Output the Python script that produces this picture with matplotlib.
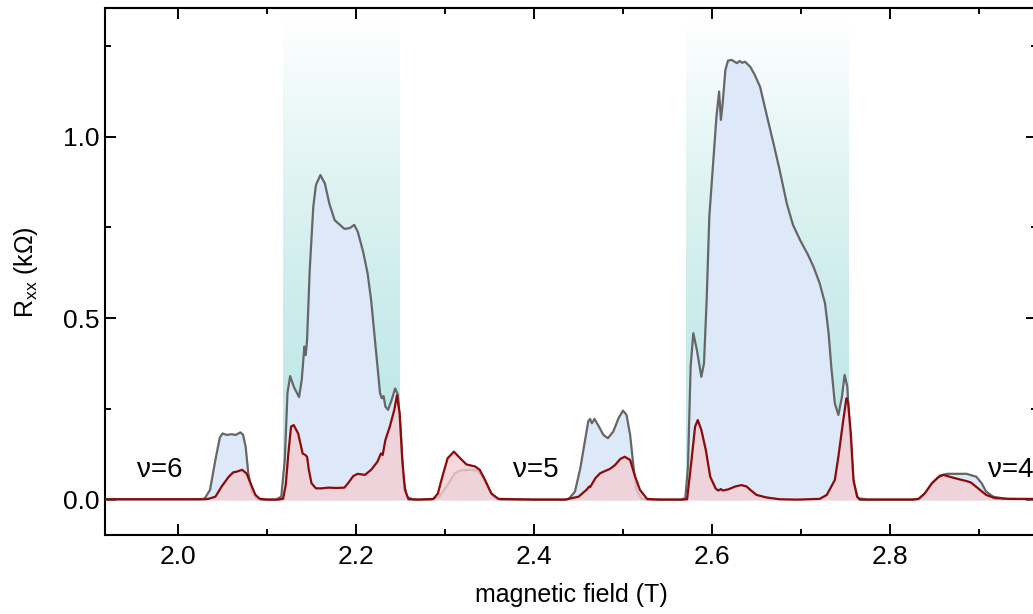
import numpy as np
import matplotlib.pyplot as plt
from matplotlib.ticker import MultipleLocator

plt.rcParams['font.family'] = ['Liberation Sans', 'DejaVu Sans']
plt.rcParams['mathtext.fontset'] = 'custom'
plt.rcParams['mathtext.rm'] = 'Liberation Sans'

# Rxx traces vs magnetic field (T, kOhm)
grey_B = [1.918, 1.95, 2.00, 2.025, 2.030, 2.036, 2.042, 2.047, 2.050, 2.055,
          2.060, 2.065, 2.070, 2.073, 2.076, 2.079, 2.083, 2.088, 2.095, 2.110,
          2.116, 2.120, 2.123, 2.126, 2.130, 2.136, 2.139, 2.142, 2.1435, 2.145,
          2.148, 2.152, 2.155, 2.160, 2.165, 2.170, 2.176, 2.182, 2.187, 2.193,
          2.198, 2.202, 2.208, 2.213, 2.217, 2.222, 2.227, 2.229, 2.231, 2.233,
          2.236, 2.240, 2.244, 2.247, 2.250, 2.253, 2.257, 2.265, 2.285, 2.294,
          2.304, 2.311, 2.317, 2.328, 2.336, 2.341, 2.347, 2.354, 2.362, 2.400,
          2.435, 2.439, 2.446, 2.452, 2.457, 2.461, 2.463, 2.465, 2.468, 2.472,
          2.478, 2.483, 2.489, 2.495, 2.500, 2.504, 2.508, 2.512, 2.515, 2.521,
          2.530, 2.565, 2.570, 2.573, 2.576, 2.579, 2.583, 2.588, 2.591, 2.594,
          2.597, 2.601, 2.605, 2.608, 2.610, 2.612, 2.615, 2.618, 2.622, 2.628,
          2.631, 2.634, 2.637, 2.643, 2.648, 2.654, 2.661, 2.669, 2.676, 2.684,
          2.691, 2.699, 2.708, 2.714, 2.721, 2.727, 2.731, 2.734, 2.738, 2.742,
          2.746, 2.749, 2.752, 2.755, 2.759, 2.764, 2.775, 2.825, 2.834, 2.841,
          2.849, 2.856, 2.864, 2.875, 2.886, 2.897, 2.903, 2.908, 2.916, 2.931,
          2.966]
grey_R = [0.002, 0.002, 0.002, 0.002, 0.004, 0.028, 0.110, 0.172, 0.183, 0.179,
          0.181, 0.179, 0.186, 0.180, 0.147, 0.073, 0.023, 0.004, 0.001, 0.001,
          0.009, 0.110, 0.294, 0.341, 0.312, 0.283, 0.330, 0.422, 0.399, 0.440,
          0.633, 0.807, 0.867, 0.894, 0.871, 0.816, 0.770, 0.757, 0.746, 0.748,
          0.757, 0.738, 0.683, 0.624, 0.550, 0.422, 0.294, 0.280, 0.286, 0.257,
          0.248, 0.275, 0.307, 0.290, 0.200, 0.060, 0.008, 0.001, 0.001, 0.009,
          0.046, 0.073, 0.081, 0.083, 0.081, 0.069, 0.041, 0.009, 0.001, 0.001,
          0.001, 0.003, 0.023, 0.087, 0.160, 0.217, 0.223, 0.211, 0.223, 0.206,
          0.179, 0.170, 0.188, 0.225, 0.246, 0.234, 0.179, 0.087, 0.028, 0.003,
          0.001, 0.001, 0.005, 0.092, 0.367, 0.459, 0.413, 0.339, 0.376, 0.550,
          0.780, 0.917, 1.055, 1.124, 1.046, 1.092, 1.183, 1.209, 1.211, 1.202,
          1.208, 1.203, 1.206, 1.192, 1.170, 1.137, 1.064, 0.982, 0.908, 0.816,
          0.757, 0.715, 0.674, 0.642, 0.596, 0.541, 0.459, 0.367, 0.266, 0.234,
          0.284, 0.344, 0.312, 0.183, 0.046, 0.005, 0.001, 0.001, 0.003, 0.023,
          0.050, 0.067, 0.072, 0.072, 0.072, 0.064, 0.046, 0.023, 0.009, 0.003,
          0.002]

red_B = [1.918, 1.95, 2.00, 2.030, 2.034, 2.042, 2.049, 2.057, 2.062, 2.066,
         2.072, 2.077, 2.083, 2.087, 2.092, 2.100, 2.112, 2.118, 2.121, 2.124, 2.127,
         2.130, 2.135, 2.140, 2.143, 2.145, 2.147, 2.150, 2.155, 2.161, 2.169,
         2.178, 2.187, 2.191, 2.197, 2.202, 2.210, 2.217, 2.224, 2.228, 2.230,
         2.233, 2.238, 2.243, 2.246, 2.249, 2.252, 2.255, 2.259, 2.270, 2.287,
         2.292, 2.298, 2.303, 2.310, 2.317, 2.324, 2.334, 2.339, 2.345, 2.352,
         2.360, 2.400, 2.435, 2.450, 2.459, 2.462, 2.463, 2.469, 2.474, 2.480,
         2.485, 2.491, 2.497, 2.502, 2.508, 2.513, 2.519, 2.527, 2.540, 2.567,
         2.572, 2.577, 2.581, 2.584, 2.588, 2.593, 2.598, 2.604, 2.607, 2.610,
         2.612, 2.618, 2.626, 2.633, 2.639, 2.643, 2.650, 2.661, 2.676, 2.695,
         2.721, 2.729, 2.738, 2.742, 2.747, 2.751, 2.753, 2.756, 2.759, 2.763,
         2.766, 2.780, 2.825, 2.832, 2.839, 2.847, 2.855, 2.860, 2.867, 2.876,
         2.886, 2.891, 2.899, 2.908, 2.918, 2.934, 2.966]
red_R = [0.002, 0.002, 0.002, 0.002, 0.003, 0.009, 0.037, 0.064, 0.076, 0.078,
         0.083, 0.073, 0.037, 0.014, 0.003, 0.001, 0.001, 0.003, 0.040, 0.128, 0.202,
         0.206, 0.183, 0.128, 0.124, 0.119, 0.083, 0.046, 0.032, 0.032, 0.034,
         0.033, 0.034, 0.046, 0.066, 0.072, 0.069, 0.083, 0.105, 0.128, 0.124,
         0.165, 0.202, 0.248, 0.288, 0.239, 0.110, 0.028, 0.002, 0.001, 0.003,
         0.018, 0.073, 0.115, 0.133, 0.115, 0.098, 0.092, 0.083, 0.055, 0.018,
         0.003, 0.001, 0.001, 0.009, 0.028, 0.037, 0.035, 0.060, 0.073, 0.080,
         0.085, 0.096, 0.113, 0.119, 0.110, 0.069, 0.028, 0.003, 0.001, 0.001,
         0.002, 0.110, 0.202, 0.220, 0.193, 0.138, 0.064, 0.032, 0.026, 0.030,
         0.026, 0.029, 0.037, 0.041, 0.037, 0.028, 0.014, 0.007, 0.002, 0.001,
         0.003, 0.014, 0.055, 0.119, 0.211, 0.280, 0.266, 0.183, 0.055, 0.009,
         0.001, 0.001, 0.001, 0.003, 0.018, 0.046, 0.064, 0.069, 0.064, 0.058,
         0.052, 0.048, 0.032, 0.014, 0.005, 0.003, 0.003]

# shaded field windows and filling-factor labels
bands = [(2.118, 2.249), (2.571, 2.754)]
band_top = 1.32
nu_labels = ['ν=6', 'ν=5', 'ν=4']
nu_B = [1.954, 2.376, 2.910]
nu_R = [0.083, 0.083, 0.083]

fig = plt.figure(figsize=(10.33, 6.14), dpi=100)
ax = fig.add_axes([0.1021, 0.1287, 1.0039 - 0.1021, 0.9865 - 0.1287])

# teal gradient: full colour at the bottom, fading to white at the top
teal = np.array([0.74, 0.905, 0.905])
n = 256
t = np.linspace(0, 1, n)
grad = np.zeros((n, 1, 4))
grad[:, 0, :3] = teal
grad[:, 0, 3] = 1 - t ** 1.6
for b0, b1 in bands:
    ax.imshow(grad, extent=[b0, b1, 0, band_top], origin='lower',
              aspect='auto', interpolation='bilinear', zorder=0)

ax.fill_between(grey_B, 0, grey_R, color='#dde9f9', lw=0, zorder=1)
ax.plot(grey_B, grey_R, color='#666666', lw=1.6, zorder=2)
ax.fill_between(red_B, 0, red_R, color='#f4ced4', alpha=0.8, lw=0, zorder=3)
ax.plot(red_B, red_R, color='#8c0a0a', lw=1.6, zorder=4)

for lab, x, y in zip(nu_labels, nu_B, nu_R):
    ax.text(x, y, lab, fontsize=20, ha='left', va='center', zorder=5)

ax.set_xlim(1.9185, 2.9652)
ax.set_ylim(-0.0963, 1.353)
ax.xaxis.set_major_locator(MultipleLocator(0.2))
ax.xaxis.set_minor_locator(MultipleLocator(0.1))
ax.yaxis.set_major_locator(MultipleLocator(0.5))
ax.yaxis.set_minor_locator(MultipleLocator(0.25))
ax.tick_params(which='both', direction='in', top=True, right=True,
               width=1.4, labelsize=19)
ax.tick_params(which='major', length=8)
ax.tick_params(which='minor', length=4.5)
ax.tick_params(axis='x', pad=7)
ax.tick_params(axis='y', pad=4)
for s in ax.spines.values():
    s.set_linewidth(1.5)

ax.set_xlabel('magnetic field (T)', fontsize=18, labelpad=10)
ax.set_ylabel(r'R$_{\mathrm{xx}}$ (kΩ)', fontsize=18, labelpad=17)

fig.savefig('out.png', dpi=100)
